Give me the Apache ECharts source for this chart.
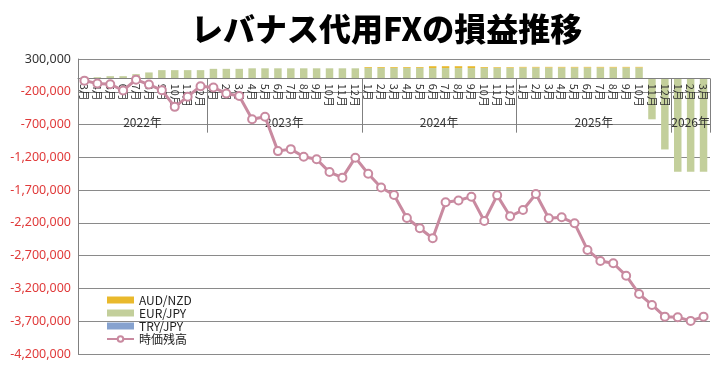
<!DOCTYPE html>
<html><head><meta charset="utf-8">
<script src="https://cdn.jsdelivr.net/npm/echarts@6/dist/echarts.min.js"></script>
<style>html,body{margin:0;padding:0;background:#fff}#c{width:728px;height:369px}</style>
</head><body><div id="c"></div>
<script>
// Categories (2022年3月 … 2026年3月)
const months = [
  '3月','4月','5月','6月','7月','8月','9月','10月','11月','12月',
  '1月','2月','3月','4月','5月','6月','7月','8月','9月','10月','11月','12月',
  '1月','2月','3月','4月','5月','6月','7月','8月','9月','10月','11月','12月',
  '1月','2月','3月','4月','5月','6月','7月','8月','9月','10月','11月','12月',
  '1月','2月','3月'
];
const years = ['2022年','2023年','2024年','2025年','2026年'];
const monthsPerYear = [10, 12, 12, 12, 3];

// Series values (JPY)
const audNzd = [
  0,0,0,0,0,0,0,0,0,0,
  0,0,0,0,0,0,0,0,0,0,0,0,
  12000,12000,12000,12000,12000,28000,28000,28000,28000,12000,10000,10000,
  10000,10000,10000,10000,10000,10000,10000,10000,10000,10000,10000,10000,
  10000,10000,10000
];
const eurJpy = [
  20000,22000,38000,38000,69000,95000,130000,130000,130000,130000,
  150000,150000,150000,158000,158000,158000,158000,158000,158000,158000,158000,158000,
  165000,165000,165000,165000,165000,162000,162000,162000,162000,165000,165000,165000,
  170000,170000,170000,170000,170000,170000,170000,170000,170000,170000,-620000,-1080000,
  -1420000,-1420000,-1420000
];
const tryJpy = [
  0,0,0,0,0,0,0,0,0,0,
  0,0,0,0,0,0,0,0,0,0,0,0,
  0,0,0,0,0,0,0,0,0,0,0,0,
  0,0,0,0,0,0,0,0,0,0,0,0,
  0,0,0
];
const marketValue = [
  -30000,-75000,-85000,-180000,-15000,-90000,-175000,-430000,-275000,-115000,
  -135000,-225000,-265000,-620000,-580000,-1105000,-1075000,-1190000,-1230000,-1425000,-1510000,-1205000,
  -1450000,-1660000,-1775000,-2125000,-2282000,-2435000,-1885000,-1858000,-1800000,-2171000,-1780000,-2100000,
  -2003000,-1760000,-2130000,-2115000,-2206000,-2613000,-2781000,-2816000,-3005000,-3284000,-3452000,-3630000,
  -3640000,-3695000,-3630000
];
const yMin = -4200000, yMax = 300000, yStep = 500000;

// derived year boundaries / centers
const yearEnds = [], yearCenters = [];
let acc = 0;
monthsPerYear.forEach(n => { yearCenters.push(acc + n / 2); acc += n; yearEnds.push(acc); });

const W = 728, H = 369;
const gridTop = 59, gridBottom = 15;
const gridH = H - gridTop - gridBottom;
// place the category axis at value 0 (distance up from grid bottom)
const zeroOffset = -gridH * (0 - yMin) / (yMax - yMin);

const chart = echarts.init(document.getElementById('c'), null, {renderer: 'canvas'});
const narrow = "'Liberation Sans Narrow','Noto Sans CJK JP',sans-serif";
chart.setOption({
  animation: false,
  backgroundColor: '#fff',
  title: {
    text: 'レバナス代用FXの損益推移',
    left: 186, top: 8,
    textStyle: {fontFamily: "'Noto Sans CJK JP'", fontSize: 32, fontWeight: 900, color: '#000'}
  },
  legend: {
    orient: 'vertical', left: 101, top: 289, itemWidth: 27, itemHeight: 7, itemGap: 1,
    data: [
      {name: 'AUD/NZD', icon: 'rect'},
      {name: 'EUR/JPY', icon: 'rect'},
      {name: 'TRY/JPY', icon: 'rect'},
      {name: '時価残高'}
    ],
    textStyle: {fontFamily: narrow, fontSize: 12, color: '#222'}
  },
  grid: {left: 78, right: 18, top: gridTop, bottom: gridBottom, containLabel: false},
  xAxis: [
    {
      type: 'category', data: months, z: 3, position: 'bottom', offset: zeroOffset,
      axisLine: {onZero: false, lineStyle: {color: '#808080', width: 1}},
      axisTick: {show: false},
      axisLabel: {interval: 0, rotate: -90, margin: 5, fontSize: 11, color: '#333',
        fontFamily: "'Noto Sans CJK JP'"},
      splitLine: {show: false}
    },
    {
      type: 'value', min: 0, max: months.length, z: 3, position: 'bottom', offset: zeroOffset,
      axisLine: {show: false, onZero: false},
      axisTick: {show: true, customValues: [0].concat(yearEnds), length: 54,
        lineStyle: {color: '#808080', width: 1}},
      axisLabel: {customValues: yearCenters, margin: 38, fontSize: 12, color: '#333',
        fontFamily: "'Noto Sans CJK JP'",
        formatter: v => { const i = yearCenters.indexOf(v); return i >= 0 ? years[i] : ''; }},
      splitLine: {show: false}
    }
  ],
  yAxis: {
    type: 'value', min: yMin, max: yMax, interval: yStep,
    axisLine: {show: true, onZero: false, lineStyle: {color: '#808080'}},
    axisTick: {show: false},
    axisLabel: {
      margin: 7, fontSize: 12.5, fontFamily: "'Noto Sans'",
      formatter: v => v.toLocaleString('en-US'),
      color: v => (v < 0 ? '#e03a3a' : '#333')
    },
    splitLine: {lineStyle: {color: '#8a8a8a', width: 1}}
  },
  series: [
    {name: 'EUR/JPY', type: 'bar', stack: 'fx', data: eurJpy, barCategoryGap: '42%',
      itemStyle: {color: '#c3cf9b'}},
    {name: 'AUD/NZD', type: 'bar', stack: 'fx', data: audNzd, itemStyle: {color: '#e9b92c'}},
    {name: 'TRY/JPY', type: 'bar', stack: 'fx', data: tryJpy, itemStyle: {color: '#86a2cf'}},
    {name: '時価残高', type: 'line', data: marketValue, z: 5,
      symbol: 'emptyCircle', symbolSize: 8,
      lineStyle: {color: '#c98aa0', width: 3},
      itemStyle: {color: '#c98aa0', borderWidth: 1.5}}
  ]
});
</script></body></html>
